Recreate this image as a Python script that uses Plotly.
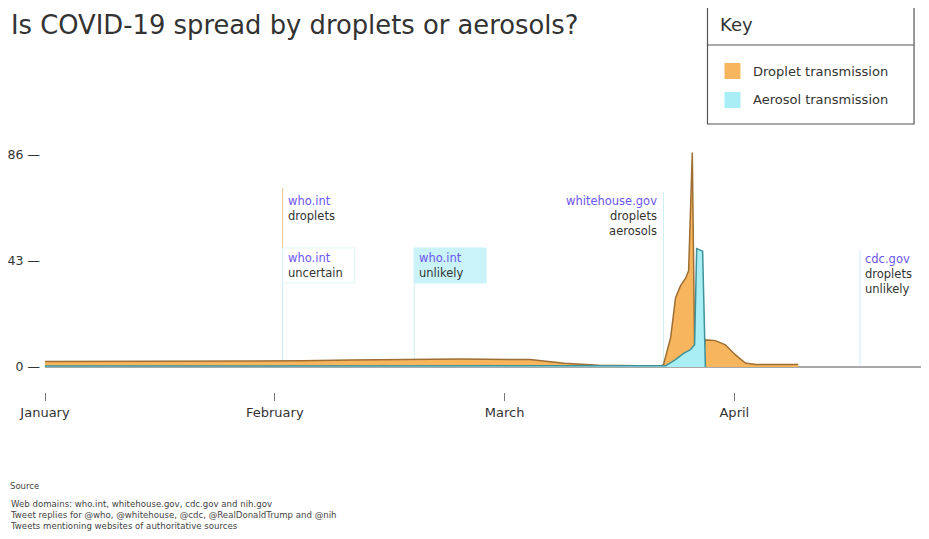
import plotly.graph_objects as go

# ---------------- data ----------------
# x positions are expressed in months since 1 January (0 = January, 1 = February, ...)
month_ticks = [0, 1, 2, 3]
month_labels = ["January", "February", "March", "April"]

y_ticks = [0, 43, 86]
y_tick_labels = ["0 —", "43 —", "86 —"]

droplet_x = [0.0, 0.46, 0.90, 1.12, 1.33, 1.55, 1.81, 2.11, 2.26, 2.41, 2.55, 2.68,
             2.692, 2.723, 2.744, 2.766, 2.788, 2.801, 2.817, 2.827, 2.840, 2.862,
             2.874, 2.918, 2.961, 3.005, 3.048, 3.092, 3.278]
droplet_y = [2.2, 2.2, 2.3, 2.5, 2.8, 3.1, 3.2, 3.0, 1.5, 0.7, 0.4, 0.4,
             1.0, 12, 28, 33, 36, 39, 87, 8, 6, 6,
             11, 10.7, 9, 4.9, 1.6, 1.0, 1.0]

aerosol_x = [0.0, 1.0, 2.0, 2.68, 2.701, 2.744, 2.779, 2.809, 2.827, 2.836, 2.862, 2.874]
aerosol_y = [0.4, 0.4, 0.4, 0.4, 0.5, 3.0, 5.5, 7.0, 9.0, 48, 47, 0.0]

event_x = [1.034, 1.034, 1.607, 2.692, 3.547]
event_site = ["who.int", "who.int", "who.int", "whitehouse.gov", "cdc.gov"]
event_text = [["droplets"], ["uncertain"], ["unlikely"], ["droplets", "aerosols"], ["droplets", "unlikely"]]
event_line_top = [72.6, 48.3, 48.3, 71.0, 47.5]
event_label_top = [70.9, 47.9, 47.9, 70.9, 47.5]

series_names = ["Droplet transmission", "Aerosol transmission"]

title_text = "Is COVID-19 spread by droplets or aerosols?"
source_title = "Source"
source_lines = [
    "Web domains: who.int, whitehouse.gov, cdc.gov and nih.gov",
    "Tweet replies for @who, @whitehouse, @cdc, @RealDonaldTrump and @nih",
    "Tweets mentioning websites of authoritative sources",
]

# ---------------- styles ----------------
OFF = 8                       # page body margin
W, H = 929 - OFF, 539 - OFF
PL, PR, PT, PB = 43, 929, 140, 392   # plot area in reference pixels
Y0PX = 367                    # reference pixel row of value 0
PXU = 2.465                   # pixels per unit
PXM = 230.3                   # pixels per month
FONT = "DejaVu Sans"
ORANGE_FILL = "#F7B65E"
ORANGE_LINE = "#9E6E33"
CYAN_FILL = "#A9EDF5"
CYAN_LINE = "#3E9299"
PURPLE = "#6B55F0"
DARK = "#333333"
EVENT_LINE_CYAN = "#CBEFF3"
EVENT_LINE_ORANGE = "#F5C68A"
ANN_SIZE = 11.5


def px_x(p):
    return (p - PL) / (PR - PL)


def px_y(p):
    return (PB - p) / (PB - PT)


fig = go.Figure()

fig.add_trace(go.Scatter(
    x=droplet_x, y=droplet_y, name=series_names[0], mode="lines", fill="tozeroy",
    fillcolor=ORANGE_FILL, line=dict(color=ORANGE_LINE, width=1.5), hoverinfo="skip",
))
fig.add_trace(go.Scatter(
    x=aerosol_x, y=aerosol_y, name=series_names[1], mode="lines", fill="tozeroy",
    fillcolor=CYAN_FILL, line=dict(color=CYAN_LINE, width=1.5), hoverinfo="skip",
))

shapes = []
annotations = []

box_w = 72 / PXM
box_bottom = (Y0PX - 283) / PXU

for i, (ex, site, lines, ltop, ty) in enumerate(zip(event_x, event_site, event_text,
                                                    event_line_top, event_label_top)):
    if i == 0:
        y0 = event_line_top[1]
        lcol = EVENT_LINE_ORANGE
    else:
        y0 = 0
        lcol = EVENT_LINE_CYAN
    shapes.append(dict(type="line", xref="x", yref="y", x0=ex, x1=ex, y0=y0, y1=ltop,
                       line=dict(color=lcol, width=1), layer="below"))
    if i in (1, 2):
        shapes.append(dict(type="rect", xref="x", yref="y", x0=ex, x1=ex + box_w,
                           y0=box_bottom, y1=ltop,
                           fillcolor="#C9F3F8" if i == 2 else "rgba(0,0,0,0)",
                           line=dict(color="#C9F3F8" if i == 2 else "#E0F5F7", width=1),
                           layer="below"))
    right = (i == 3)
    text = f'<span style="color:{PURPLE}">{site}</span><br>' + "<br>".join(lines)
    annotations.append(dict(
        x=ex, y=ty, xref="x", yref="y", text=text, showarrow=False,
        xanchor="right" if right else "left", yanchor="top",
        align="right" if right else "left",
        xshift=-5 if right else 3,
        font=dict(family=FONT, size=ANN_SIZE, color=DARK)))

# title
annotations.append(dict(xref="paper", yref="paper", x=px_x(7), y=px_y(25), text=title_text,
                        showarrow=False, xanchor="left", yanchor="middle",
                        font=dict(family=FONT, size=25.8, color=DARK)))

# key box
shapes.append(dict(type="rect", xref="paper", yref="paper", x0=px_x(707), x1=px_x(914),
                   y0=px_y(124), y1=px_y(2), line=dict(color="#555555", width=1.2),
                   fillcolor="white"))
shapes.append(dict(type="line", xref="paper", yref="paper", x0=px_x(707), x1=px_x(914),
                   y0=px_y(45), y1=px_y(45), line=dict(color="#555555", width=1.2)))
annotations.append(dict(xref="paper", yref="paper", x=px_x(718), y=px_y(24), text="Key",
                        showarrow=False, xanchor="left", yanchor="middle",
                        font=dict(family=FONT, size=18, color=DARK)))
for k, (name, col, cy) in enumerate(zip(series_names, [ORANGE_FILL, CYAN_FILL], [71, 100])):
    shapes.append(dict(type="rect", xref="paper", yref="paper", x0=px_x(724), x1=px_x(740),
                       y0=px_y(cy + 8), y1=px_y(cy - 8), line=dict(width=0), fillcolor=col))
    annotations.append(dict(xref="paper", yref="paper", x=px_x(751), y=px_y(cy), text=name,
                            showarrow=False, xanchor="left", yanchor="middle",
                            font=dict(family=FONT, size=13, color=DARK)))

# source
annotations.append(dict(xref="paper", yref="paper", x=px_x(6), y=px_y(486), text=source_title,
                        showarrow=False, xanchor="left", yanchor="middle",
                        font=dict(family=FONT, size=8.5, color="#444444")))
annotations.append(dict(xref="paper", yref="paper", x=px_x(6), y=px_y(514.5), text="<br>".join(source_lines),
                        showarrow=False, xanchor="left", yanchor="middle", align="left",
                        font=dict(family=FONT, size=8.6, color="#444444")))

fig.update_layout(
    width=W, height=H,
    margin=dict(l=PL - OFF, r=0, t=PT - OFF, b=H - (PB - OFF), pad=0),
    plot_bgcolor="white", paper_bgcolor="white",
    showlegend=False,
    shapes=shapes, annotations=annotations,
    xaxis=dict(range=[0, (W - (PL - OFF)) / PXM], tickvals=month_ticks, ticktext=month_labels,
               showgrid=False, zeroline=False, showline=False,
               ticks="outside", ticklen=8, tickcolor="#777777", tickwidth=1,
               tickfont=dict(family=FONT, size=13, color=DARK), fixedrange=True),
    yaxis=dict(range=[-(PB - Y0PX) / PXU, (Y0PX - PT) / PXU], tickvals=y_ticks, ticktext=y_tick_labels,
               showgrid=False, zeroline=True, zerolinecolor="#A8A8A8", zerolinewidth=1.5,
               showline=False, ticks="", ticklabelstandoff=4,
               tickfont=dict(family=FONT, size=12.5, color=DARK), fixedrange=True),
)

fig.write_html("out.html")
